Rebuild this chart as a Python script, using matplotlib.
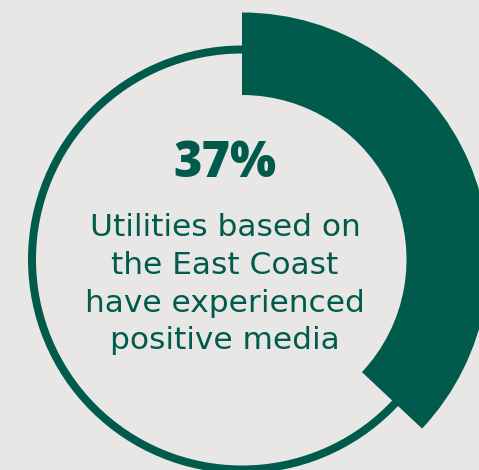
import matplotlib
matplotlib.use("Agg")
import matplotlib.pyplot as plt
from matplotlib.patches import Wedge, Circle

# Data
share = 37  # percent
headline = f"{share}%"
caption_lines = ["Utilities based on", "the East Coast",
                 "have experienced", "positive media"]

green = "#015b4d"
bg = "#e8e7e5"

W, H = 479, 470
fig = plt.figure(figsize=(W / 100, H / 100), dpi=100, facecolor=bg)
ax = fig.add_axes([0, 0, 1, 1])
ax.set_xlim(0, W)
ax.set_ylim(0, H)
ax.set_facecolor(bg)
ax.axis("off")

cx, cy = 242, H - 259.5

# thin full ring
ax.add_patch(Circle((cx, cy), 210, fill=False, edgecolor=green, linewidth=8 * 0.72))

# thick arc for the share, clockwise from 12 o'clock
r_out, r_in = 247, 164.5
ax.add_patch(Wedge((cx, cy), r_out, 90 - 360 * share / 100, 90,
                   width=r_out - r_in, facecolor=green, edgecolor="none"))

# texts
ax.text(225, H - 164, headline, ha="center", va="center", color=green,
        fontsize=35, fontweight="heavy", family="Open Sans")

y0 = H - 228
for i, line in enumerate(caption_lines):
    ax.text(225, y0 - i * 37.5, line, ha="center", va="center", color=green,
            fontsize=22.5, family="DejaVu Sans")

fig.savefig("out.png", dpi=100, facecolor=bg)
